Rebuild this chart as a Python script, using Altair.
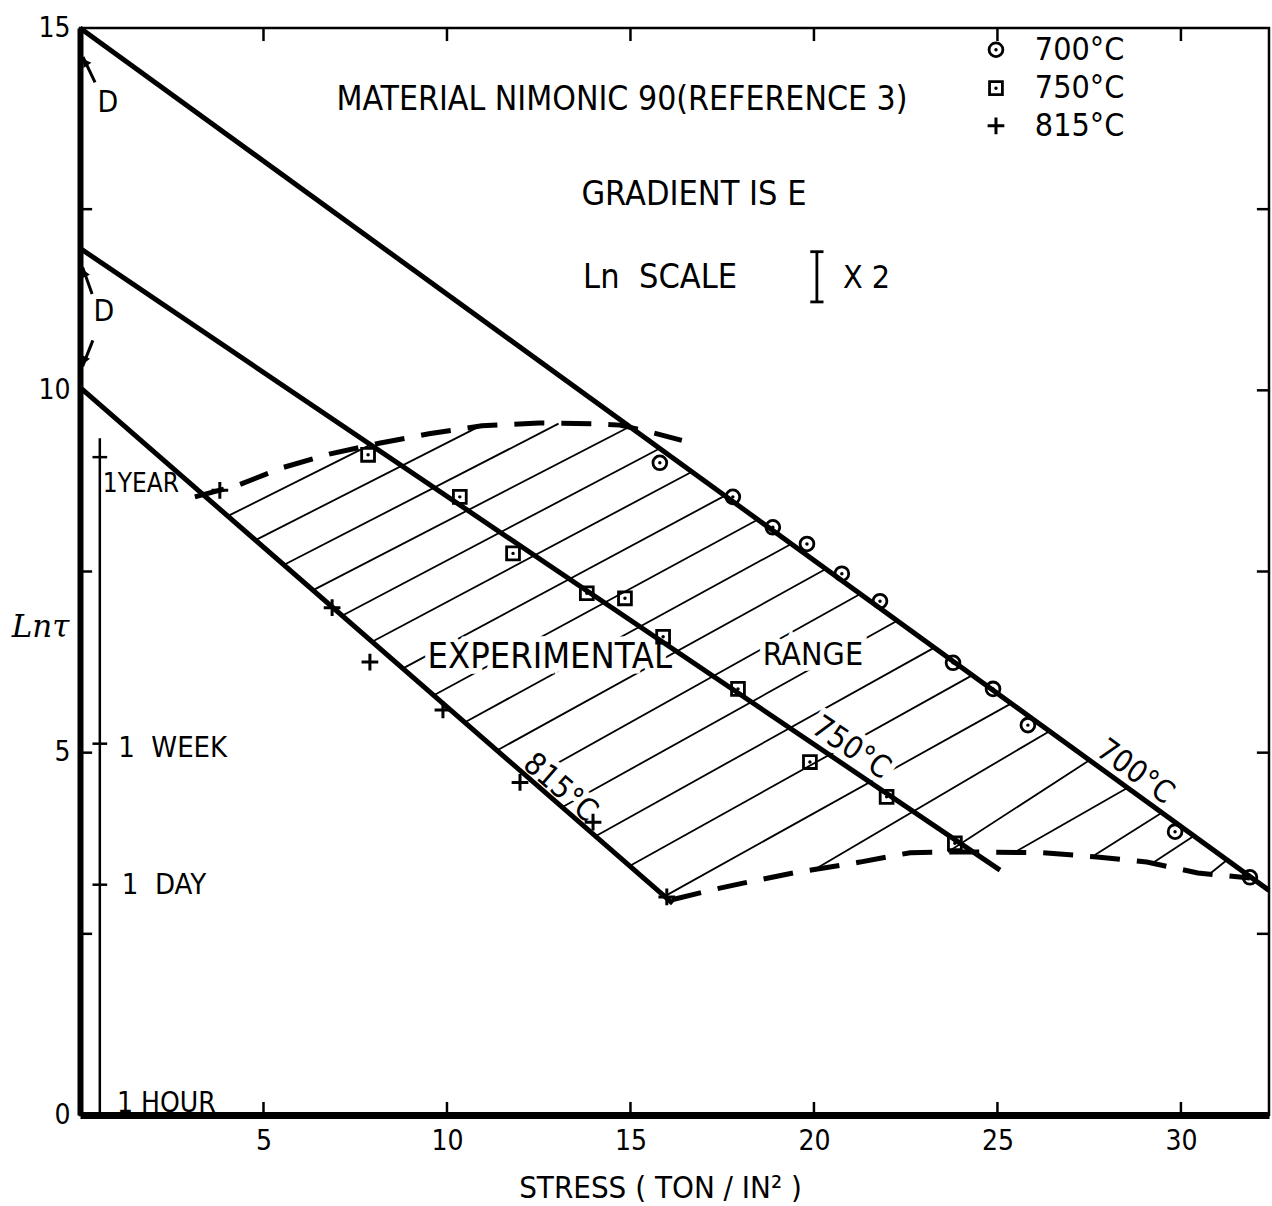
import math
import altair as alt
import pandas as pd

FONT = "DejaVu Sans Condensed, Liberation Sans Narrow, DejaVu Sans"
NB = "\u00a0"

# ---------------- experimental points (stress ton/in^2, ln tau) ----------------
stress_700 = [15.80, 17.79, 18.88, 19.81, 20.76, 21.80, 23.79, 24.88, 25.83, 29.84, 31.88]
lnt_700 = [9.00, 8.53, 8.11, 7.88, 7.47, 7.09, 6.24, 5.88, 5.38, 3.91, 3.28]
stress_750 = [7.85, 10.35, 11.80, 13.81, 14.85, 15.89, 17.93, 19.89, 21.98, 23.84]
lnt_750 = [9.11, 8.53, 7.75, 7.20, 7.13, 6.60, 5.88, 4.87, 4.39, 3.75]
stress_815 = [3.81, 6.87, 7.90, 9.89, 11.99, 13.98, 15.99]
lnt_815 = [8.62, 7.00, 6.25, 5.59, 4.59, 4.04, 3.01]

# ---------------- fitted lines (start / end) ----------------
fit_temp = ["700", "700", "750", "750", "815", "815"]
fit_stress = [0.0, 32.4, 0.0, 25.07, 0.0, 16.15]
fit_lnt = [15.0, 3.10, 11.96, 3.38, 10.04, 2.92]

# ---------------- experimental range boundaries (dashed) ----------------
upper_stress = [3.13, 4.25, 5.50, 6.79, 8.15, 9.51, 10.95, 12.51, 13.98, 14.71, 15.34, 16.40]
upper_lnt = [8.53, 8.68, 8.93, 9.12, 9.27, 9.40, 9.51, 9.55, 9.54, 9.52, 9.45, 9.31]
lower_stress = [16.13, 17.25, 18.07, 19.43, 21.25, 22.62, 23.98, 26.24, 27.71, 29.07, 30.46, 31.88]
lower_lnt = [2.97, 3.11, 3.20, 3.34, 3.49, 3.62, 3.63, 3.62, 3.56, 3.49, 3.34, 3.27]

# ---------------- hatching of the experimental range ----------------
hatch_x1 = [4.01, 4.77, 5.55, 6.34, 7.14, 7.96, 8.79, 9.63, 10.49, 11.36, 12.25, 13.15, 14.06,
            14.99, 15.94, 20.03, 23.65, 25.45, 27.60, 29.24, 30.79]
hatch_y1 = [8.26, 7.93, 7.59, 7.24, 6.89, 6.53, 6.16, 5.79, 5.42, 5.03, 4.64, 4.25, 3.85,
            3.44, 3.02, 3.39, 3.63, 3.62, 3.57, 3.48, 3.33]
hatch_x2 = [7.88, 10.95, 13.04, 14.91, 15.77, 16.65, 17.55, 18.45, 19.38, 20.31, 21.26, 22.27, 23.28,
            24.32, 25.38, 26.43, 27.52, 28.56, 29.51, 30.38, 31.28]
hatch_y2 = [9.24, 9.52, 9.54, 9.48, 9.19, 8.87, 8.54, 8.21, 7.88, 7.53, 7.19, 6.82, 6.45,
            6.07, 5.68, 5.30, 4.90, 4.52, 4.18, 3.86, 3.53]

# ---------------- axes ----------------
xlabel_values = [5, 10, 15, 20, 25, 30]
ylabel_values = [0, 5, 10, 15]
ytick_left = [2.5, 5, 7.5, 12.5]
ytick_right = [2.5, 5, 7.5, 10, 12.5]
X_MAX, Y_MAX = 32.4, 15.0

# inner time scale (tau in hours)
time_hours = [8760, 168, 24, 1]
time_labels = ["1YEAR", "1" + NB + NB + "WEEK", "1" + NB + NB + "DAY", "1" + NB + "HOUR"]
time_label_x = [0.62, 1.04, 1.14, 1.01]
time_label_y = [8.71, 5.06, 3.18, 0.15]
time_label_size = [26, 29, 29, 28]
time_axis_x = 0.54
time_axis_top = 9.34

# ---------------- annotations ----------------
center_text = ["MATERIAL NIMONIC 90(REFERENCE 3)", "GRADIENT IS E", "D", "D"]
center_x = [14.77, 16.73, 0.76, 0.65]
center_y = [14.01, 12.69, 13.96, 11.08]
center_size = [33.5, 34, 30, 30]

halo_text = ["EXPERIMENTAL", "RANGE", "815°C", "750°C", "700°C"]
halo_x = [12.80, 19.97, 13.08, 21.01, 28.75]
halo_y = [6.32, 6.35, 4.51, 5.06, 4.73]
halo_angle = [0, 0, 41, 34, 36]
halo_size = [36, 32, 31, 31, 31]

left_text = ["Ln" + NB + NB + "SCALE", "X 2", "700°C", "750°C", "815°C"]
left_x = [13.71, 20.79, 26.02, 26.02, 26.02]
left_y = [11.55, 11.55, 14.70, 14.17, 13.65]
left_size = [34, 32, 32, 32, 32]

legend_x = 24.96
legend_y = [14.70, 14.17, 13.65]

ibeam_x = 20.08
ibeam_y0 = 11.22
ibeam_span = math.log(2)

arrow_x1 = [0.41, 0.33, 0.35]
arrow_y1 = [14.25, 11.33, 10.69]
arrow_x2 = [0.08, 0.07, 0.07]
arrow_y2 = [14.60, 11.70, 10.33]
arrow_head_x = [0.14, 0.11, 0.11]
arrow_head_y = [14.53, 11.62, 10.41]
arrow_head_angle = [326, 337, 203]

# ================= chart =================
xscale = alt.Scale(domain=[0, X_MAX], nice=False, zero=False)
yscale = alt.Scale(domain=[0, Y_MAX], nice=False, zero=False)
xaxis = alt.Axis(values=xlabel_values, ticks=False, grid=False, domainWidth=7, domainColor="black",
                 labelFont=FONT, labelFontSize=28, labelPadding=12, labelColor="black", labelFlush=False,
                 title="STRESS  ( TON / IN² )", titleFont=FONT, titleFontSize=31, titleFontWeight="normal",
                 titleX=580, titleY=73, titleBaseline="middle", titleAlign="center", titleColor="black")
yaxis = alt.Axis(values=ylabel_values, ticks=False, grid=False, domainWidth=6, domainColor="black",
                 labelFont=FONT, labelFontSize=28, labelPadding=10, labelColor="black", labelFlush=False,
                 title="Lnτ", titleAngle=0, titleX=-40, titleY=599, titleAlign="center",
                 titleBaseline="middle", titleFont="DejaVu Serif", titleFontStyle="italic",
                 titleFontSize=31, titleFontWeight="normal", titleColor="black")


def X(f="x"):
    return alt.X(f"{f}:Q", scale=xscale, axis=xaxis)


def Y(f="y"):
    return alt.Y(f"{f}:Q", scale=yscale, axis=yaxis)


layers = []

# hatching
hatch_df = pd.DataFrame({"x": hatch_x1, "y": hatch_y1, "x2": hatch_x2, "y2": hatch_y2})
layers.append(alt.Chart(hatch_df).mark_rule(color="black", strokeWidth=1.8).encode(
    x=X(), y=Y(), x2="x2:Q", y2="y2:Q"))

# white halo behind labels lying on the hatching
halo_df = pd.DataFrame({"t": halo_text, "x": halo_x, "y": halo_y, "a": halo_angle, "s": halo_size})
layers.append(alt.Chart(halo_df).mark_text(font=FONT, fill="white", stroke="white", strokeWidth=11,
                                           align="center", baseline="middle").encode(
    x=X(), y=Y(), text="t:N", angle=alt.Angle("a:Q", scale=None), size=alt.Size("s:Q", scale=None)))

# dashed boundaries
for xs, ys in [(upper_stress, upper_lnt), (lower_stress, lower_lnt)]:
    d = pd.DataFrame({"x": xs, "y": ys, "i": list(range(len(xs)))})
    layers.append(alt.Chart(d).mark_line(color="black", strokeWidth=5, strokeDash=[30, 17]).encode(
        x=X(), y=Y(), order="i:O"))

# fitted lines
fit_df = pd.DataFrame({"x": fit_stress, "y": fit_lnt, "t": fit_temp})
layers.append(alt.Chart(fit_df).mark_line(color="black", strokeWidth=5).encode(
    x=X(), y=Y(), detail="t:N"))

# inward ticks on frame
TX = 0.18  # tick length, y units
TY = 0.33  # tick length, x units
tick_rows = []
for v in xlabel_values:
    tick_rows.append((v, 0, v, TX))
    tick_rows.append((v, Y_MAX, v, Y_MAX - TX))
for v in ytick_left:
    tick_rows.append((0, v, TY, v))
for v in ytick_right:
    tick_rows.append((X_MAX, v, X_MAX - TY, v))
tick_df = pd.DataFrame(tick_rows, columns=["x", "y", "x2", "y2"])
layers.append(alt.Chart(tick_df).mark_rule(color="black", strokeWidth=2.5).encode(
    x=X(), y=Y(), x2="x2:Q", y2="y2:Q"))

# inner time scale
time_df = pd.DataFrame({"h": time_hours[:3]})
layers.append(alt.Chart(pd.DataFrame({"x": [time_axis_x], "y": [0], "y2": [time_axis_top]}))
              .mark_rule(color="black", strokeWidth=2.5).encode(x=X(), y=Y(), y2="y2:Q"))
layers.append(alt.Chart(time_df).transform_calculate(y="log(datum.h)", x=f"{time_axis_x - 0.2}",
                                                     x2=f"{time_axis_x + 0.2}")
              .mark_rule(color="black", strokeWidth=2.5).encode(x=X(), y=Y(), x2="x2:Q"))
tl_df = pd.DataFrame({"t": time_labels, "x": time_label_x, "y": time_label_y, "s": time_label_size})
layers.append(alt.Chart(tl_df).mark_text(font=FONT, align="left", baseline="middle",
                                         color="black").encode(
    x=X(), y=Y(), text="t:N", size=alt.Size("s:Q", scale=None)))

# I-beam for ln scale x2
layers.append(alt.Chart(pd.DataFrame({"x": [ibeam_x], "y": [ibeam_y0], "y2": [ibeam_y0 + ibeam_span]}))
              .mark_rule(color="black", strokeWidth=2.8).encode(x=X(), y=Y(), y2="y2:Q"))
cap_df = pd.DataFrame({"x": [ibeam_x - 0.18] * 2, "x2": [ibeam_x + 0.18] * 2,
                       "y": [ibeam_y0, ibeam_y0 + ibeam_span]})
layers.append(alt.Chart(cap_df).mark_rule(color="black", strokeWidth=2.8).encode(
    x=X(), y=Y(), x2="x2:Q"))

# D arrows
arr_df = pd.DataFrame({"x": arrow_x1, "y": arrow_y1, "x2": arrow_x2, "y2": arrow_y2})
layers.append(alt.Chart(arr_df).mark_rule(color="black", strokeWidth=3).encode(
    x=X(), y=Y(), x2="x2:Q", y2="y2:Q"))
head_df = pd.DataFrame({"x": arrow_head_x, "y": arrow_head_y, "a": arrow_head_angle})
layers.append(alt.Chart(head_df).mark_point(shape="triangle-up", filled=True, color="black", size=90,
                                            opacity=1).encode(
    x=X(), y=Y(), angle=alt.Angle("a:Q", scale=None)))

# data points (+ legend symbols)
PLUS = "M-1,0L1,0M0,-1L0,1"
p700 = pd.DataFrame({"x": stress_700 + [legend_x], "y": lnt_700 + [legend_y[0]]})
p750 = pd.DataFrame({"x": stress_750 + [legend_x], "y": lnt_750 + [legend_y[1]]})
p815 = pd.DataFrame({"x": stress_815 + [legend_x], "y": lnt_815 + [legend_y[2]]})
layers.append(alt.Chart(p700).mark_point(shape="circle", filled=False, color="black", strokeWidth=2.8,
                                         size=190, opacity=1).encode(x=X(), y=Y()))
layers.append(alt.Chart(p750).mark_point(shape="square", filled=False, color="black", strokeWidth=2.8,
                                         size=165, opacity=1).encode(x=X(), y=Y()))
dots = pd.concat([p700, p750])
layers.append(alt.Chart(dots).mark_point(shape="circle", filled=True, color="black", size=12,
                                         opacity=1).encode(x=X(), y=Y()))
layers.append(alt.Chart(p815).mark_point(shape=PLUS, filled=False, color="black", strokeWidth=3,
                                         size=280, opacity=1).encode(x=X(), y=Y()))

# texts
layers.append(alt.Chart(halo_df).mark_text(font=FONT, color="black", align="center",
                                           baseline="middle").encode(
    x=X(), y=Y(), text="t:N", angle=alt.Angle("a:Q", scale=None), size=alt.Size("s:Q", scale=None)))
c_df = pd.DataFrame({"t": center_text, "x": center_x, "y": center_y, "s": center_size})
layers.append(alt.Chart(c_df).mark_text(font=FONT, color="black", align="center",
                                        baseline="middle").encode(
    x=X(), y=Y(), text="t:N", size=alt.Size("s:Q", scale=None)))
l_df = pd.DataFrame({"t": left_text, "x": left_x, "y": left_y, "s": left_size})
layers.append(alt.Chart(l_df).mark_text(font=FONT, color="black", align="left",
                                        baseline="middle").encode(
    x=X(), y=Y(), text="t:N", size=alt.Size("s:Q", scale=None)))

chart = alt.layer(*layers).properties(
    width=1189, height=1087,
    padding={"left": 80, "top": 28, "right": 3, "bottom": 91},
    autosize=alt.AutoSizeParams(type="none"),
    background="white",
).configure_view(stroke="black", strokeWidth=2.5)

chart.save("out.html", embed_options={"renderer": "svg", "actions": False})
